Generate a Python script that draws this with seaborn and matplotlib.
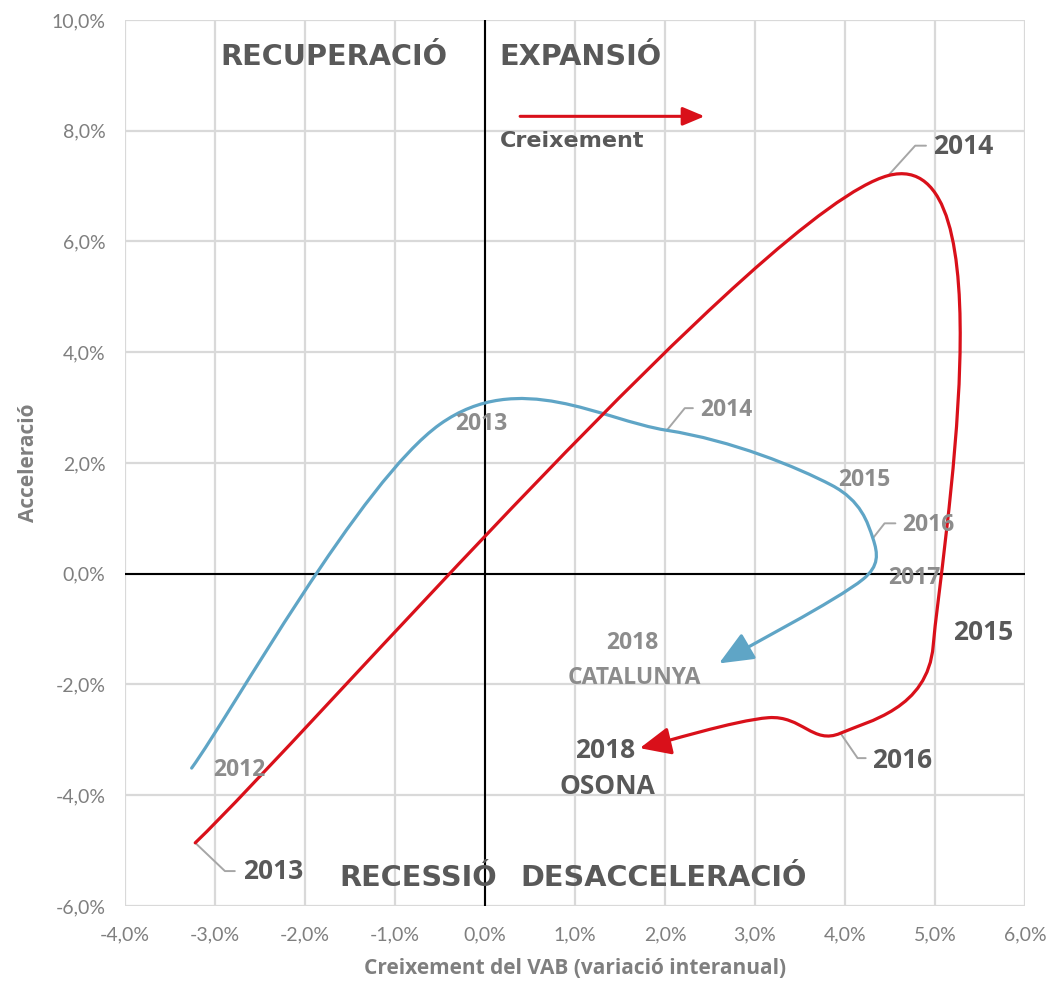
import numpy as np
import matplotlib
matplotlib.use("Agg")
import matplotlib.pyplot as plt
import seaborn as sns
from matplotlib.path import Path
from matplotlib.patches import FancyArrowPatch
from matplotlib.ticker import MultipleLocator, FuncFormatter

# Osona (red) and Catalunya (blue): VAB growth (x) vs acceleration (y), in %
osona_years = ["2013", "2014", "2015", "2016", "2017", "2018"]
osona_growth = [-3.22, 4.48, 4.98, 3.95, 3.15, 1.72]
osona_accel = [-4.86, 7.19, -1.30, -2.88, -2.60, -3.15]

cat_years = ["2012", "2013", "2014", "2015", "2016", "2017", "2018"]
cat_growth = [-3.26, -0.50, 2.02, 3.85, 4.31, 4.20, 2.60]
cat_accel = [-3.51, 2.70, 2.59, 1.60, 0.64, -0.10, -1.62]

RED = "#D9101A"
BLUE = "#5FA5C6"
DARK = "#595959"
GREY = "#8C8C8C"
LEADER = "#A6A6A6"
BOLD_FONT = ["Open Sans", "DejaVu Sans"]

# pixel size of one % on each axis, used for the Excel-like smoothing
SX, SY = 90.0, 55.4


def smooth_path(xs, ys):
    """Bezier path through the points, the way Excel smooths a line."""
    pts = np.column_stack([np.asarray(xs) * SX, np.asarray(ys) * SY])
    n = len(pts)
    verts = [pts[0]]
    codes = [Path.MOVETO]
    for i in range(n - 1):
        p0 = pts[i - 1] if i > 0 else pts[i]
        p1, p2 = pts[i], pts[i + 1]
        p3 = pts[i + 2] if i + 2 < n else pts[i + 1]
        d02 = np.linalg.norm(p2 - p0)
        d12 = np.linalg.norm(p2 - p1)
        d13 = np.linalg.norm(p3 - p1)
        f = 1 / 6 if d02 / 6 < d12 / 2 else d12 / (2 * d02)
        g = 1 / 6 if d13 / 6 < d12 / 2 else d12 / (2 * d13)
        verts += [p1 + (p2 - p0) * f, p2 - (p3 - p1) * g, p2]
        codes += [Path.CURVE4] * 3
    verts = np.array(verts) / [SX, SY]
    return Path(verts, codes)


sns.set_theme(style="white")
plt.rcParams["font.family"] = ["Lato", "DejaVu Sans"]

fig, ax = plt.subplots(figsize=(10.49, 9.84), dpi=100)
fig.subplots_adjust(left=0.1192, right=0.9771, top=0.9797, bottom=0.0793)

ax.set_xlim(-4, 6)
ax.set_ylim(-6, 10)
ax.xaxis.set_major_locator(MultipleLocator(1))
ax.yaxis.set_major_locator(MultipleLocator(2))
fmt = FuncFormatter(lambda v, _: f"{v:.1f}".replace(".", ",") + "%")
ax.xaxis.set_major_formatter(fmt)
ax.yaxis.set_major_formatter(fmt)
ax.tick_params(labelsize=14, colors="#7F7F7F", length=0)
ax.tick_params(axis="x", pad=15)
ax.tick_params(axis="y", pad=14)
ax.grid(True, color="#D9D9D9", lw=1.6)
ax.set_axisbelow(True)
sns.despine(ax=ax, left=True, bottom=True)
ax.axhline(0, color="black", lw=1.5, zorder=1)
ax.axvline(0, color="black", lw=1.5, zorder=1)

ax.set_xlabel("Creixement del VAB (variació interanual)", fontsize=15,
              fontweight="bold", color="#7F7F7F", labelpad=10, family=BOLD_FONT)
ax.set_ylabel("Acceleració", fontsize=15, fontweight="bold", color="#7F7F7F",
              labelpad=9, family=BOLD_FONT)

# the two smoothed trajectories with arrow heads
for xs, ys, col, hl, hw in [(cat_growth, cat_accel, BLUE, 21, 9),
                            (osona_growth, osona_accel, RED, 19, 8.5)]:
    arrow = FancyArrowPatch(path=smooth_path(xs, ys),
                            arrowstyle=f"-|>,head_length={hl},head_width={hw}",
                            color=col, lw=2.3, shrinkA=0, shrinkB=0,
                            joinstyle="round", capstyle="round", zorder=3)
    ax.add_patch(arrow)

# year labels (position in data coords, optional elbow for leader line)
osona_labels = {
    "2013": (-2.69, -5.37, (-2.89, -5.37), (-2.78, -5.37)),
    "2014": (4.98, 7.72, (4.78, 7.73), (4.90, 7.73)),
    "2015": (5.20, -1.07, None, None),
    "2016": (4.30, -3.37, (4.14, -3.33), (4.23, -3.33)),
}
cat_labels = {
    "2012": (-3.02, -3.55, None, None),
    "2013": (-0.33, 2.70, None, None),
    "2014": (2.39, 2.95, (2.22, 2.99), (2.31, 2.99)),
    "2015": (3.92, 1.69, None, None),
    "2016": (4.63, 0.88, (4.44, 0.91), (4.56, 0.91)),
    "2017": (4.48, -0.08, None, None),
}

for years, xs, ys, labels, col, size in [
        (osona_years, osona_growth, osona_accel, osona_labels, DARK, 19),
        (cat_years, cat_growth, cat_accel, cat_labels, GREY, 16.5)]:
    for yr, px, py in zip(years, xs, ys):
        if yr not in labels:
            continue
        lx, ly, elbow, end = labels[yr]
        if elbow is not None:
            ax.plot([px, elbow[0], end[0]], [py, elbow[1], end[1]],
                    color=LEADER, lw=1.4, zorder=2)
        ax.text(lx, ly, yr, fontsize=size, fontweight="bold", color=col,
                ha="left", va="center", zorder=4, family=BOLD_FONT)

ax.text(1.64, -1.25, "2018", fontsize=16.5, fontweight="bold", color=GREY,
        ha="center", va="center", family=BOLD_FONT)
ax.text(1.66, -1.89, "CATALUNYA", fontsize=16.5, fontweight="bold",
        color=GREY, ha="center", va="center", family=BOLD_FONT)
ax.text(1.34, -3.19, "2018", fontsize=19, fontweight="bold", color=DARK,
        ha="center", va="center", family=BOLD_FONT)
ax.text(1.36, -3.85, "OSONA", fontsize=19, fontweight="bold", color=DARK,
        ha="center", va="center", family=BOLD_FONT)

# quadrant names
quad = dict(fontsize=20.7, fontweight="bold", color=DARK, ha="center",
            va="center", family="DejaVu Sans")
ax.text(-1.68, 9.33, "RECUPERACIÓ", **quad)
ax.text(1.06, 9.33, "EXPANSIÓ", **quad)
ax.text(-0.74, -5.5, "RECESSIÓ", **quad)
ax.text(1.98, -5.5, "DESACCELERACIÓ", **quad)

ax.annotate("", xy=(2.44, 8.26), xytext=(0.39, 8.26),
            arrowprops=dict(arrowstyle="-|>,head_length=0.95,head_width=0.4",
                            color=RED, lw=2.2, mutation_scale=14,
                            shrinkA=0, shrinkB=0))
ax.text(0.16, 7.81, "Creixement", fontsize=16, fontweight="bold", color=DARK,
        ha="left", va="center", family="DejaVu Sans")

fig.savefig("out.png", dpi=100)
